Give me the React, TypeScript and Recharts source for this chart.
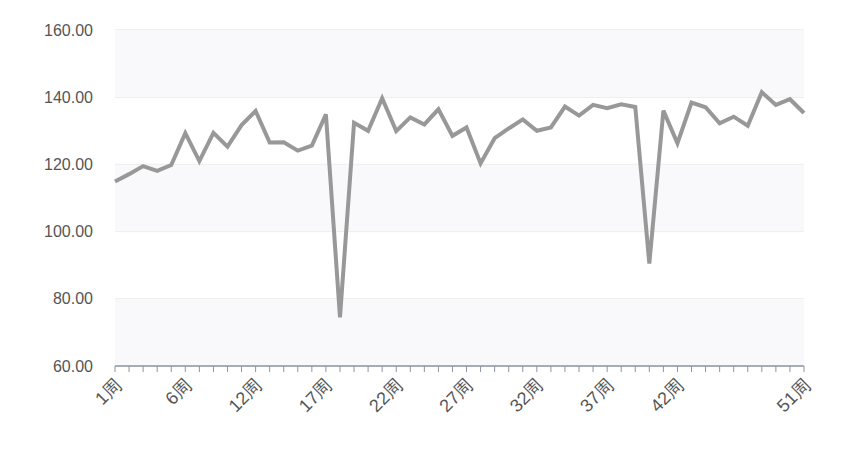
import { LineChart, Line, XAxis, YAxis, CartesianGrid, ReferenceArea } from "recharts"

const weeks = [
  "1周", "2周", "3周", "4周", "5周", "6周", "7周", "8周", "9周", "10周",
  "12周", "13周", "14周", "15周", "16周", "17周", "18周", "19周", "20周", "21周",
  "22周", "23周", "24周", "25周", "26周", "27周", "28周", "29周", "30周", "31周",
  "32周", "33周", "34周", "35周", "36周", "37周", "38周", "39周", "40周", "41周",
  "42周", "43周", "44周", "45周", "46周", "47周", "48周", "49周", "50周", "51周",
]

const values = [
  114.9, 117.1, 119.5, 118.1, 119.8, 129.3, 121.0, 129.4, 125.3, 131.7,
  135.9, 126.5, 126.6, 124.1, 125.6, 134.9, 74.5, 132.4, 130.0, 139.7,
  129.9, 134.0, 131.9, 136.4, 128.5, 131.0, 120.3, 127.8, 130.7, 133.4,
  130.0, 131.0, 137.2, 134.5, 137.7, 136.7, 137.9, 137.1, 90.5, 136.0,
  126.3, 138.4, 137.0, 132.2, 134.2, 131.5, 141.5, 137.7, 139.4, 135.3,
]

const shownLabels = ["1周", "6周", "12周", "17周", "22周", "27周", "32周", "37周", "42周", "51周"]

const yTicks = [60, 80, 100, 120, 140, 160]

// shaded bands, like the split areas of the original
const bands = [
  [140, 160],
  [100, 120],
  [60, 80],
]

const data = weeks.map((w, i) => ({ week: w, value: values[i] }))

const font = "'Liberation Sans', Arial, sans-serif"

function WeekTick(props: any) {
  const { x, y, payload } = props
  if (!shownLabels.includes(payload.value)) return null
  const tx = x + 3
  const ty = y + 8
  return (
    <text
      x={tx}
      y={ty}
      transform={`rotate(-45, ${tx}, ${ty})`}
      textAnchor="end"
      dominantBaseline="central"
      fontSize={18}
      fontFamily={font}
      fill="#555"
    >
      {payload.value}
    </text>
  )
}

export default function App() {
  return (
    <div style={{ position: "absolute", left: 0, top: 0, width: 860, height: 469, background: "#fff" }}>
      <LineChart width={860} height={469} data={data} margin={{ top: 30, right: 56, left: 0, bottom: 0 }}>
        {bands.map(([a, b]) => (
          <ReferenceArea key={a} y1={a} y2={b} fill="#f9f9fb" fillOpacity={1} stroke="none" ifOverflow="visible" />
        ))}
        <CartesianGrid vertical={false} stroke="#e3e3e3" />
        <XAxis
          dataKey="week"
          interval={0}
          tick={<WeekTick />}
          tickSize={6}
          tickMargin={2}
          tickLine={{ stroke: "#8c95a3" }}
          axisLine={{ stroke: "#8c95a3", strokeWidth: 1.5 }}
          height={103}
        />
        <YAxis
          domain={[60, 160]}
          ticks={yTicks}
          width={115}
          axisLine={false}
          tickLine={false}
          tickSize={0}
          tickMargin={22}
          tickFormatter={(v: number) => v.toFixed(2)}
          tick={{ fontSize: 16, fontFamily: font, fill: "#555" }}
        />
        <Line
          type="linear"
          dataKey="value"
          stroke="#989898"
          strokeWidth={4}
          dot={false}
          activeDot={false}
          isAnimationActive={false}
        />
      </LineChart>
    </div>
  )
}
